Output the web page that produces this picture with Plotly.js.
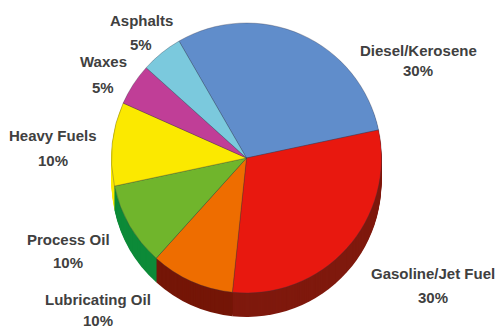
<!DOCTYPE html>
<html>
<head>
<meta charset="utf-8">
<script src="https://cdn.plot.ly/plotly-3.0.1.min.js"></script>
<style>html,body{margin:0;padding:0;background:#fff}#chart{width:496px;height:328px}</style>
</head>
<body>
<div id="chart"></div>
<script>
// Refinery product shares, clockwise from the top-right slice
const products = ['Diesel/Kerosene', 'Gasoline/Jet Fuel', 'Lubricating Oil', 'Process Oil', 'Heavy Fuels', 'Waxes', 'Asphalts'];
const shares = [30, 30, 10, 10, 10, 5, 5];
const faceColors = ['#608dcb', '#e8180f', '#ee6d00', '#70b52c', '#fbe900', '#c03e97', '#7bc9dd'];
const wallColors = ['#3f5f8c', '#7f190d', '#751607', '#0c8a38', '#fbe900', '#802a66', '#528796'];

// Label anchors in pixels: x centre, name line y, percent line y
const labelX = [418, 433, 98, 68, 53, 103, 141];
const nameY = [50, 273, 299, 239, 136, 62, 20];
const percentY = [71, 297, 320, 262, 160, 87, 44];

const W = 496, H = 328;
const centreX = 246.5, centreY = 158, radius = 135, depth = 24;
const startAngle = -30;

function pieTrace(drop, colors, line) {
  return {
    type: 'pie',
    labels: products,
    values: shares,
    sort: false,
    direction: 'clockwise',
    rotation: startAngle,
    textinfo: 'none',
    hoverinfo: 'label+percent',
    showlegend: false,
    marker: {colors: colors, line: line},
    domain: {
      x: [(centreX - radius) / W, (centreX + radius) / W],
      y: [1 - (centreY + drop + radius) / H, 1 - (centreY + drop - radius) / H]
    }
  };
}

// The rim is a stack of darker pies, each a pixel higher than the last
const traces = [];
for (let drop = depth; drop >= 1; drop--) {
  traces.push(pieTrace(drop, wallColors, {width: 0}));
}
traces.push(pieTrace(0, faceColors, {color: 'rgba(50,50,70,0.45)', width: 0.7}));

function label(text, x, y) {
  return {
    text: text, x: x / W, y: 1 - y / H,
    xref: 'paper', yref: 'paper', xanchor: 'center', yanchor: 'middle',
    showarrow: false,
    font: {family: 'Liberation Sans, Arial, sans-serif', size: 15, color: '#404040', weight: 'bold'}
  };
}
const annotations = [];
products.forEach((name, i) => {
  annotations.push(label(name, labelX[i], nameY[i]));
  annotations.push(label(shares[i] + '%', labelX[i], percentY[i]));
});

Plotly.newPlot('chart', traces, {
  width: W, height: H,
  margin: {l: 0, r: 0, t: 0, b: 0},
  paper_bgcolor: '#fff',
  showlegend: false,
  annotations: annotations
}, {displayModeBar: false, staticPlot: true});
</script>
</body>
</html>
